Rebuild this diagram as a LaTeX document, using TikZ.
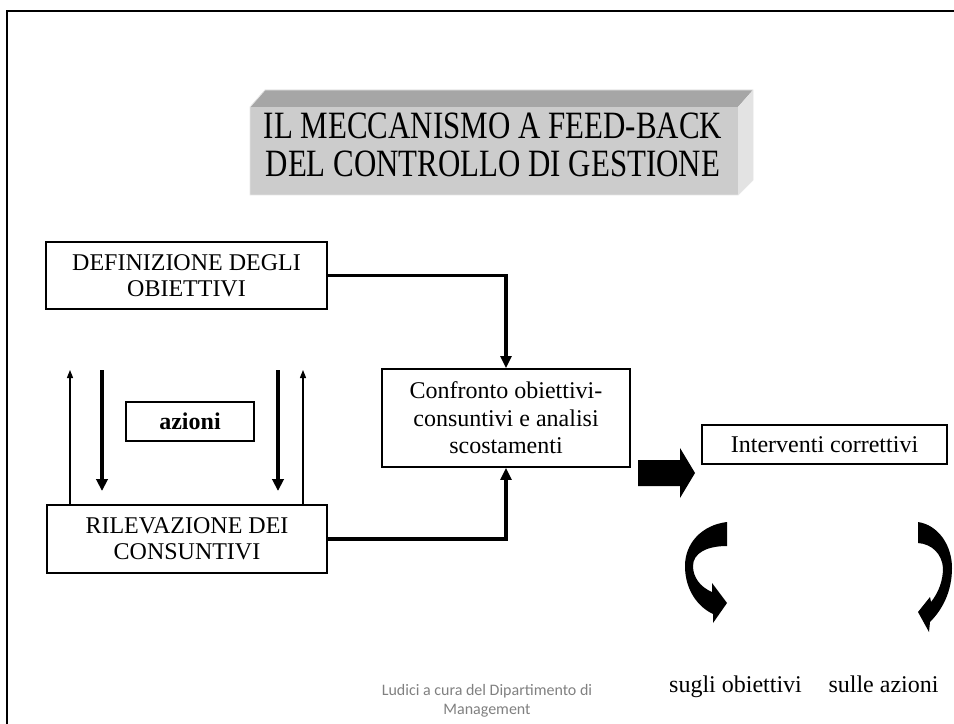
\documentclass[tikz,border=0pt]{standalone}
\usepackage{fontspec}
\usepackage{graphicx}
\setmainfont{Liberation Serif}
\newfontfamily\notefont{Carlito}
\usetikzlibrary{arrows.meta}
\definecolor{facefront}{HTML}{CCCCCC}
\definecolor{facetop}{HTML}{A6A6A6}
\definecolor{faceside}{HTML}{E3E3E3}
\definecolor{notegray}{HTML}{808080}
\begin{document}
\begin{tikzpicture}[x=0.75pt,y=-0.75pt,
  box/.style={draw, line width=1.2pt, inner sep=0pt, align=center,
    font=\fontsize{18}{19.5}\selectfont},
  conn/.style={line width=2.4pt, -{Triangle[length=9pt,width=8pt]}},
  downarr/.style={line width=2.6pt, -{Triangle[length=9pt,width=8.5pt]}},
  thinarr/.style={line width=0.8pt, -{Triangle[length=6pt,width=4.5pt]}},
  label/.style={anchor=base, font=\fontsize{18}{19.5}\selectfont}]
\useasboundingbox (0,0) rectangle (954,724);

% slide frame
\draw[line width=1.5pt] (954,11) -- (7,11) -- (7,724);

% title block with bevelled top and side
\fill[facetop] (250,107) -- (265,90) -- (753,90) -- (738,107) -- cycle;
\fill[faceside] (738,107) -- (753,90) -- (753,180) -- (738,195) -- cycle;
\fill[facefront] (250,107) rectangle (738,195);
\draw[gray!20, line width=0.6pt] (250,195) -- (250,107) -- (265,90) -- (753,90) -- (753,180) -- (738,195) -- cycle;
\node[inner sep=0pt] (title) at (493,150)
  {\scalebox{0.8}[1]{\fontsize{29}{28.5}\selectfont
   \begin{tabular}{@{}c@{}}IL MECCANISMO A FEED-BACK\\DEL CONTROLLO DI GESTIONE\end{tabular}}};

% process boxes
\node[box, minimum width=210.75pt, minimum height=50.25pt] (def) at (186.5,275.5)
  {DEFINIZIONE DEGLI\\OBIETTIVI};
\node[box, minimum width=210pt, minimum height=51pt] (ril) at (187,539)
  {RILEVAZIONE DEI\\CONSUNTIVI};
\node[box, minimum width=96pt, minimum height=29.25pt] (az) at (190,421.5)
  {\bfseries azioni};
\node[box, minimum width=186pt, minimum height=73.5pt,
  font=\fontsize{18}{20.6}\selectfont] (conf) at (506,418)
  {Confronto obiettivi-\\consuntivi e analisi\\scostamenti};
\node[box, minimum width=183.75pt, minimum height=29.25pt] (int) at (824.5,444.5)
  {Interventi correttivi};

% feedback connectors into the comparison box
\draw[conn] (def.east) -| (conf.north);
\draw[conn] (ril.east) -| (conf.south);

% action arrows between objectives and results
\coordinate (upL) at (70,370);
\coordinate (upR) at (303,370);
\coordinate (dnLs) at (102,370);
\coordinate (dnLe) at (102,491);
\coordinate (dnRs) at (278,370);
\coordinate (dnRe) at (278,491);
\draw[thinarr] (ril.north -| upL) -- (upL);
\draw[thinarr] (ril.north -| upR) -- (upR);
\draw[downarr] (dnLs) -- (dnLe);
\draw[downarr] (dnRs) -- (dnRe);

% block arrow towards the corrective actions
\fill (638,460) -- (680,460) -- (680,448) -- (695,473) -- (680,498) -- (680,486) -- (638,486) -- cycle;

% curved arrows
\fill (727,522) .. controls (702,525) and (685,543) .. (685,566)
  .. controls (685,590) and (698,607) .. (713,614)
  -- (713,623) -- (727,603) -- (712,583) -- (712,592)
  .. controls (700,587) and (693,577) .. (693,566)
  .. controls (693,553) and (707,546) .. (727,546) -- cycle;
\fill (918,522) .. controls (938,525) and (952,545) .. (952,568)
  .. controls (952,592) and (942,610) .. (930,622)
  -- (929,632) -- (918,612) -- (930,597) -- (931,602)
  .. controls (939,592) and (943,580) .. (943,568)
  .. controls (942,554) and (932,544) .. (918,543) -- cycle;

\node[label] (lobj) at (735.5,692) {sugli obiettivi};
\node[label] (lact) at (883.5,692) {sulle azioni};

% footer
\node[align=center, text=notegray, font=\notefont\fontsize{12}{14}\selectfont] (foot) at (487,701)
  {Ludici a cura del Dipartimento di\\Management};
\end{tikzpicture}
\end{document}
